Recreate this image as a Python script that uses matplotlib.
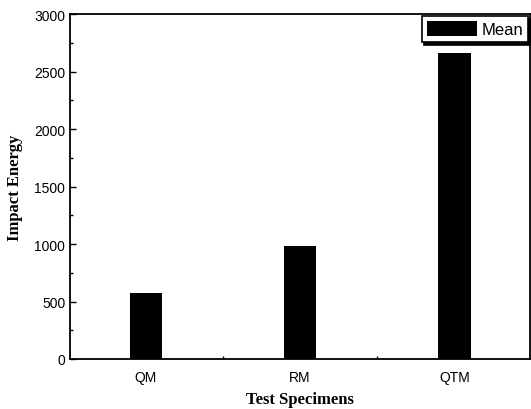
import numpy as np
import matplotlib.pyplot as plt
from matplotlib.ticker import MultipleLocator

# data
specimens = ['QM', 'RM', 'QTM']
mean_energy = [572, 982, 2662]

fig = plt.figure(figsize=(5.31, 4.10), dpi=100)
ax = fig.add_axes([0.132, 0.122, 0.866, 0.841])

x = np.arange(1, len(specimens) + 1)
ax.bar(x, mean_energy, width=0.21, color='black', label='Mean')

ax.set_xlim(0.51, 3.49)
ax.set_ylim(0, 3000)
ax.set_xticks(x)
ax.set_xticklabels(specimens)
ax.xaxis.set_minor_locator(MultipleLocator(0.5))
ax.yaxis.set_major_locator(MultipleLocator(500))
ax.yaxis.set_minor_locator(MultipleLocator(250))

ax.tick_params(which='both', direction='in', width=1, labelsize=10)
ax.tick_params(which='major', length=4)
ax.tick_params(which='minor', length=2.5)
ax.tick_params(axis='x', which='major', length=0, pad=8)
for lab in ax.get_xticklabels() + ax.get_yticklabels():
    lab.set_family('Liberation Sans')

for s in ax.spines.values():
    s.set_linewidth(1.3)

ax.set_xlabel('Test Specimens', family='Liberation Serif', fontweight='bold',
              fontsize=12, labelpad=5)
ax.set_ylabel('Impact Energy', family='Liberation Serif', fontweight='bold',
              fontsize=12, labelpad=8)

leg = ax.legend(loc='upper right', bbox_to_anchor=(1.0, 1.0), fancybox=False,
                shadow={'color': 'black', 'alpha': 1.0, 'ox': 2, 'oy': -2},
                prop={'family': 'Liberation Sans', 'size': 12},
                handlelength=3.0, handleheight=1.0, borderpad=0.3,
                handletextpad=0.3, borderaxespad=0.1)
leg.get_frame().set_edgecolor('black')
leg.get_frame().set_linewidth(1.2)

fig.savefig('out.png', dpi=100)
